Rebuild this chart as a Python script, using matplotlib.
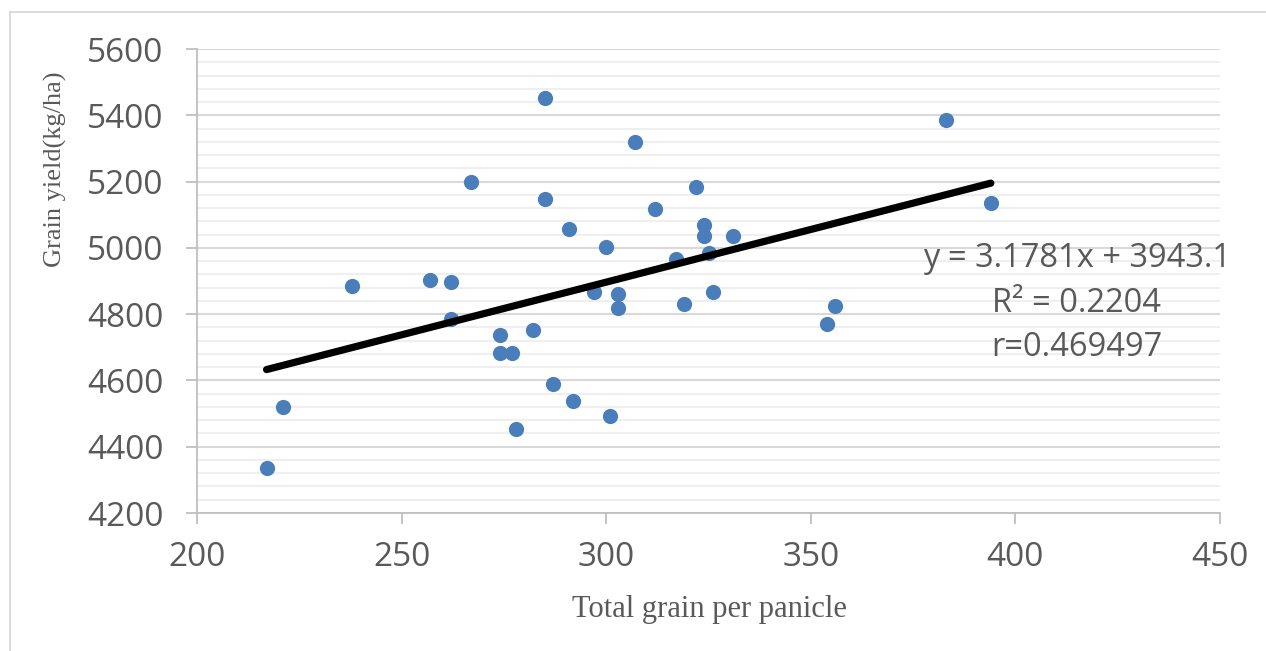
import numpy as np
from matplotlib import pyplot as plt
from matplotlib.lines import Line2D
from matplotlib.ticker import MultipleLocator

# data
grains = [217, 221, 238, 257, 262, 262, 267, 274, 274, 277, 278, 282,
          285, 285, 287, 291, 292, 297, 300, 301, 303, 303, 307, 312,
          317, 319, 322, 324, 324, 325, 326, 331, 354, 356, 383, 394]
yields = [4335, 4520, 4886, 4902, 4898, 4786, 5200, 4736, 4684, 4684, 4452, 4752,
          5451, 5147, 4588, 5056, 4537, 4866, 5002, 4494, 4860, 4818, 5318, 5118,
          4965, 4830, 5185, 5068, 5035, 4985, 4868, 5035, 4769, 4824, 5385, 5134]

slope = 3.1781
intercept = 3943.1
eq_lines = ["y = 3.1781x + 3943.1", "R² = 0.2204", "r=0.469497"]

grey = '#595959'
blue = '#4a7ebb'

fig = plt.figure(figsize=(12.66, 6.51), dpi=100)
ax = fig.add_axes([197/1266, 1-513/651, (1220-197)/1266, (513-49)/651])

ax.scatter(grains, yields, s=120, color=blue, zorder=3, linewidths=0)

x_fit = np.array([min(grains), max(grains)])
ax.plot(x_fit, slope*x_fit + intercept, color='black', lw=5.2,
        solid_capstyle='round', zorder=4)

ax.set_xlim(200, 450)
ax.set_ylim(4200, 5600)
ax.xaxis.set_major_locator(MultipleLocator(50))
ax.yaxis.set_major_locator(MultipleLocator(200))
ax.yaxis.set_minor_locator(MultipleLocator(40))

ax.grid(axis='y', which='major', color='#d9d9d9', lw=1.5, zorder=0)
ax.grid(axis='y', which='minor', color='#efefef', lw=1.5, zorder=0)
ax.set_axisbelow(True)

for s in ['top', 'right']:
    ax.spines[s].set_visible(False)
for s in ['left', 'bottom']:
    ax.spines[s].set_color('#bfbfbf')
    ax.spines[s].set_linewidth(1.3)

ax.tick_params(axis='both', which='major', length=8, width=1.3, color='#bfbfbf',
               labelcolor=grey, labelsize=24)
ax.tick_params(axis='y', which='minor', length=0)
ax.tick_params(axis='x', pad=12)
ax.tick_params(axis='y', pad=16)
for lab in ax.get_xticklabels() + ax.get_yticklabels():
    lab.set_family('Open Sans')

# axis titles placed where the reference has them
fig.text(709/1266, 1-610/651, 'Total grain per panicle', family='Liberation Serif',
         fontsize=22, color=grey, ha='center', va='center')
fig.text(55/1266, 1-169/651, 'Grain yield(kg/ha)', family='Liberation Serif',
         fontsize=19, color=grey, ha='center', va='center', rotation=90)

for i, t in enumerate(eq_lines):
    fig.text(1077/1266, 1-(258+45*i)/651, t, ha='center', va='center',
             fontsize=23.5, color=grey, family='Open Sans')

# light frame around the chart
fig.add_artist(Line2D([10/1266, 10/1266], [0, 1-12/651], color='#d9d9d9', lw=1.3))
fig.add_artist(Line2D([10/1266, 1], [1-12/651, 1-12/651], color='#d9d9d9', lw=1.3))

fig.savefig('out.png', dpi=100)
